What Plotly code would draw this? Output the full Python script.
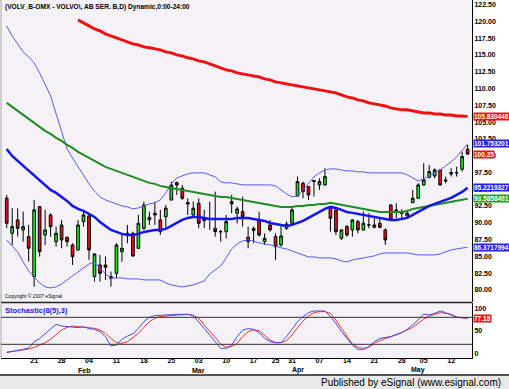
import plotly.graph_objects as go

# ---------------- data ----------------
idx = list(range(85))

opens = [93.66, 88.44, 90.43, 88.94, 87.94, 81.98, 92.41, 88.19, 91.17, 87.20,
         89.68, 87.84, 86.70, 85.96, 90.18, 91.02, 81.98, 83.72, 83.72, 81.98,
         82.48, 85.71, 88.19, 88.44, 86.20, 89.18, 90.43, 91.42, 90.43, 90.92,
         93.41, 95.99, 95.15, 93.01, 91.17, 92.91, 90.67, 90.57, 89.18, 88.69,
         88.69, 92.81, 91.42, 91.67, 87.84, 88.84, 90.43, 87.20, 89.68, 87.94,
         86.70, 89.18, 89.93, 94.00, 95.89, 95.40, 96.14, 95.64, 95.64, 92.17,
         91.92, 87.69, 89.43, 88.94, 90.18, 88.94, 89.68, 89.33, 89.93, 88.94,
         92.66, 91.67, 91.52, 91.02, 93.01, 93.66, 95.64, 96.79, 96.98, 97.88,
         96.39, 97.28, 97.48, 97.98, 100.96]
highs = [94.15, 92.17, 92.17, 91.67, 89.68, 93.41, 92.50, 91.92, 91.42, 89.43,
         90.43, 87.94, 86.95, 90.43, 91.67, 91.42, 85.46, 85.21, 84.96, 82.73,
         86.95, 88.19, 89.68, 88.69, 91.17, 93.16, 91.67, 93.16, 91.92, 92.66,
         96.14, 96.14, 95.64, 93.66, 93.16, 93.66, 91.92, 93.16, 94.65, 88.94,
         91.17, 94.15, 92.41, 93.90, 89.43, 89.43, 91.67, 88.44, 90.43, 88.44,
         89.68, 90.18, 92.41, 96.88, 96.14, 95.45, 96.39, 96.64, 98.13, 92.41,
         92.17, 89.00, 89.68, 90.50, 90.43, 91.67, 91.42, 90.67, 90.67, 89.18,
         92.75, 92.91, 92.02, 91.92, 94.90, 95.89, 98.87, 98.62, 98.13, 97.95,
         96.88, 98.13, 98.37, 100.61, 101.60]
lows = [89.18, 86.70, 87.94, 87.20, 84.22, 80.49, 84.96, 86.70, 87.94, 86.45,
        86.20, 86.45, 83.72, 85.85, 89.43, 84.47, 81.24, 81.24, 81.48, 80.49,
        81.73, 84.22, 86.95, 84.96, 86.10, 88.94, 89.68, 89.68, 88.19, 89.18,
        93.30, 94.15, 93.41, 91.17, 90.92, 89.18, 89.18, 88.94, 87.94, 87.20,
        87.69, 91.42, 89.93, 89.43, 86.20, 86.95, 87.94, 86.70, 88.69, 84.47,
        86.45, 88.94, 89.68, 93.90, 93.66, 93.41, 93.90, 94.90, 95.55, 88.69,
        88.19, 87.45, 87.94, 87.94, 88.44, 88.85, 89.18, 89.18, 89.18, 86.70,
        90.35, 90.67, 90.67, 90.67, 92.91, 93.55, 95.55, 96.64, 96.64, 95.55,
        95.89, 96.88, 96.88, 97.63, 100.11]
closes = [89.93, 89.43, 89.18, 89.43, 86.20, 91.92, 85.71, 88.94, 89.43, 88.44,
          87.45, 87.20, 84.96, 89.68, 91.17, 85.96, 85.36, 82.48, 83.37, 81.73,
          86.70, 86.20, 88.44, 85.05, 89.93, 92.66, 90.82, 91.17, 88.69, 92.17,
          95.64, 95.64, 93.66, 92.81, 92.17, 89.93, 90.33, 90.55, 88.69, 88.67,
          90.18, 93.16, 92.07, 90.92, 87.20, 89.18, 88.19, 87.69, 88.94, 86.45,
          88.04, 89.83, 91.92, 96.14, 94.65, 94.15, 96.29, 96.14, 96.88, 90.67,
          88.69, 88.94, 88.19, 90.43, 88.94, 89.93, 89.66, 89.68, 89.33, 87.45,
          90.43, 91.92, 91.42, 91.42, 93.66, 95.64, 96.39, 97.63, 97.88, 95.64,
          96.24, 97.48, 97.46, 99.87, 100.25]

ma_red_start = 13
ma_red = [120.24, 119.79, 119.34, 118.90, 118.60, 118.15, 117.85, 117.56, 117.26, 116.96,
          116.66, 116.51, 116.21, 116.07, 115.92, 115.77, 115.47, 115.32, 115.02, 114.87,
          114.58, 114.43, 114.13, 113.98, 113.68, 113.38, 113.08, 112.79, 112.64, 112.34,
          112.19, 112.04, 111.89, 111.74, 111.45, 111.30, 111.00, 110.85, 110.70, 110.55,
          110.40, 110.25, 110.10, 109.96, 109.81, 109.66, 109.51, 109.36, 109.06, 108.76,
          108.61, 108.32, 108.17, 107.87, 107.72, 107.57, 107.42, 107.12, 106.97, 106.83,
          106.83, 106.68, 106.53, 106.38, 106.38, 106.23, 106.23, 106.08, 106.08, 105.93,
          105.93, 105.83]
ma_green = [107.87, 107.27, 106.68, 106.08, 105.48, 104.89, 104.29, 103.70, 103.25, 102.65,
            102.21, 101.61, 101.16, 100.57, 100.12, 99.67, 99.22, 98.78, 98.33, 98.03,
            97.73, 97.44, 97.14, 96.84, 96.54, 96.24, 95.95, 95.80, 95.50, 95.35,
            95.20, 95.05, 94.90, 94.75, 94.61, 94.46, 94.31, 94.16, 94.01, 93.86,
            93.86, 93.71, 93.56, 93.41, 93.26, 93.11, 92.97, 92.82, 92.67, 92.52,
            92.37, 92.37, 92.37, 92.52, 92.52, 92.67, 92.67, 92.82, 92.82, 92.97,
            92.82, 92.67, 92.52, 92.37, 92.22, 92.07, 91.92, 91.77, 91.62, 91.62,
            91.62, 91.62, 91.62, 91.77, 92.07, 92.22, 92.37, 92.52, 92.67, 92.82,
            92.97, 93.11, 93.26, 93.41, 93.59]
ma_blue = [101.01, 99.97, 99.22, 98.48, 97.73, 96.99, 96.24, 95.50, 94.90, 94.46,
           93.86, 93.26, 92.52, 92.07, 91.77, 91.33, 90.88, 90.13, 89.54, 88.94,
           88.64, 88.35, 88.20, 88.20, 88.35, 88.64, 88.79, 88.94, 88.94, 89.09,
           89.54, 89.98, 90.43, 90.73, 90.88, 90.88, 90.73, 90.58, 90.58, 90.58,
           90.58, 90.58, 90.73, 90.73, 90.73, 90.58, 90.43, 90.28, 89.98, 89.84,
           89.69, 89.54, 89.69, 89.98, 90.28, 90.73, 91.18, 91.62, 92.07, 92.37,
           92.22, 91.92, 91.62, 91.48, 91.33, 91.18, 91.03, 90.88, 90.73, 90.58,
           90.43, 90.43, 90.58, 90.73, 91.18, 91.62, 92.07, 92.52, 92.82, 93.11,
           93.41, 93.71, 94.16, 94.61, 95.22]
band_upper = [119.34, 117.85, 116.66, 115.47, 114.72, 113.83, 112.34, 110.70, 108.91, 106.23,
              103.55, 101.01, 99.67, 98.33, 96.99, 95.80, 94.75, 93.86, 93.41, 93.11,
              92.82, 92.52, 92.37, 92.07, 92.22, 92.52, 92.82, 92.97, 93.41, 94.46,
              95.80, 96.69, 96.99, 97.29, 97.44, 97.44, 97.44, 97.14, 96.84, 96.10,
              95.95, 95.95, 95.80, 95.65, 95.65, 95.65, 95.65, 95.65, 95.65, 95.50,
              94.90, 94.31, 93.86, 94.01, 94.90, 95.95, 96.84, 97.44, 97.88, 98.03,
              98.03, 97.88, 97.73, 97.73, 97.59, 97.59, 97.44, 97.44, 97.44, 97.44,
              97.44, 97.44, 97.44, 97.14, 96.69, 96.24, 96.54, 96.99, 97.44, 97.88,
              98.48, 99.08, 99.82, 100.72, 101.75]
band_lower = [87.45, 86.56, 85.66, 84.17, 82.83, 81.94, 81.04, 80.45, 80.30, 80.45,
              80.89, 81.49, 82.09, 82.68, 83.28, 83.87, 84.17, 83.28, 82.38, 81.79,
              81.79, 81.79, 81.64, 81.64, 81.64, 81.49, 81.49, 81.49, 81.49, 81.04,
              80.75, 80.60, 80.45, 80.60, 80.75, 81.04, 81.34, 82.38, 82.98, 83.58,
              84.77, 86.11, 86.86, 87.30, 87.45, 87.30, 87.00, 86.86, 86.71, 86.56,
              86.26, 86.11, 85.81, 85.51, 85.22, 84.92, 84.92, 84.77, 84.77, 84.77,
              84.62, 84.32, 84.17, 84.47, 84.62, 84.77, 84.92, 85.07, 85.37, 85.51,
              85.51, 85.51, 85.51, 85.51, 85.37, 85.22, 85.22, 85.22, 85.22, 85.37,
              85.66, 85.96, 86.11, 86.26, 86.37]

stoch_k = [2.1, 4.3, 5.8, 8.8, 11.9, 25.9, 32.6, 43.0, 53.3, 64.4,
           60.7, 59.3, 57.0, 57.0, 59.3, 54.8, 53.3, 48.1, 37.0, 16.3,
           18.5, 31.1, 38.5, 43.0, 55.6, 70.4, 80.0, 83.7, 84.4, 84.4,
           85.9, 86.7, 87.4, 86.7, 83.7, 70.4, 55.6, 40.7, 25.9, 11.0,
           11.0, 18.5, 37.0, 51.9, 54.8, 53.3, 45.9, 33.3, 25.9, 23.7,
           23.7, 37.0, 53.3, 70.4, 81.5, 90.4, 94.1, 94.8, 94.1, 81.5,
           66.7, 48.1, 33.3, 18.5, 8.8, 8.8, 14.8, 25.9, 33.3, 34.8,
           37.0, 42.2, 45.9, 53.3, 63.0, 74.0, 87.4, 85.2, 88.9, 94.1,
           90.4, 85.2, 80.0, 79.3, 78.5]
stoch_d = [2.1, 3.6, 5.1, 7.3, 9.5, 13.3, 18.5, 23.7, 31.1, 40.7,
           51.9, 57.8, 60.7, 59.3, 57.8, 57.0, 55.6, 51.9, 44.4, 33.3,
           23.7, 22.2, 25.9, 34.8, 44.4, 57.8, 70.4, 77.8, 81.5, 83.0,
           83.7, 84.4, 85.9, 86.7, 84.4, 77.8, 63.0, 48.1, 33.3, 20.7,
           13.3, 14.8, 22.2, 37.0, 48.1, 51.9, 50.4, 40.7, 29.6, 23.7,
           23.7, 28.1, 40.7, 57.0, 71.9, 83.0, 90.4, 92.6, 92.6, 88.9,
           74.0, 55.6, 37.0, 20.7, 13.3, 11.0, 13.3, 22.2, 28.1, 33.3,
           37.0, 40.7, 45.9, 51.9, 57.8, 66.7, 76.3, 83.0, 87.4, 90.4,
           88.9, 86.7, 80.7, 78.5, 77.18]

day_ticks = [5, 10, 15, 20, 25, 30, 35, 40, 45, 49, 52, 57, 62, 67, 72, 76, 81]
day_labels = ["21", "28", "04", "11", "18", "25", "03", "10", "17", "25",
              "31", "07", "14", "21", "28", "05", "12"]
month_ticks = [14, 35, 53, 75]
month_labels = ["Feb", "Mar", "Apr", "May"]
price_ticks = [80.0, 82.5, 85.0, 87.5, 90.0, 92.5, 95.0, 97.5, 100.0, 102.5,
               105.0, 107.5, 110.0, 112.5, 115.0, 117.5, 120.0, 122.5]
stoch_ticks = [0, 50, 100]
stoch_levels = [20, 80]

badges = [("105.830446", ma_red[-1], "#EE1111"),
          ("101.753201", band_upper[-1], "#2222EE"),
          ("100.25", closes[-1], "#EE1111"),
          ("95.2219327", ma_blue[-1], "#2222EE"),
          ("93.5858491", ma_green[-1], "#22A022"),
          ("86.3717994", band_lower[-1], "#2222EE")]

# ---------------- figure ----------------
FONT = "Liberation Sans"
fig = go.Figure()

fig.add_trace(go.Scatter(x=idx, y=band_upper, mode="lines",
                         line=dict(color="#5A5AF0", width=1), xaxis="x", yaxis="y"))
fig.add_trace(go.Scatter(x=idx, y=band_lower, mode="lines",
                         line=dict(color="#5A5AF0", width=1), xaxis="x", yaxis="y"))
fig.add_trace(go.Scatter(x=idx[ma_red_start:], y=ma_red, mode="lines",
                         line=dict(color="#F01010", width=3), xaxis="x", yaxis="y"))
fig.add_trace(go.Scatter(x=idx, y=ma_green, mode="lines",
                         line=dict(color="#1E8C1E", width=2), xaxis="x", yaxis="y"))
fig.add_trace(go.Scatter(x=idx, y=ma_blue, mode="lines",
                         line=dict(color="#1414F0", width=2.5), xaxis="x", yaxis="y"))
fig.add_trace(go.Candlestick(
    x=idx, open=opens, high=highs, low=lows, close=closes,
    increasing=dict(line=dict(color="#000000", width=1), fillcolor="#22E022"),
    decreasing=dict(line=dict(color="#000000", width=1), fillcolor="#EE1111"),
    whiskerwidth=0, xaxis="x", yaxis="y"))

fig.add_trace(go.Scatter(x=idx, y=stoch_d, mode="lines",
                         line=dict(color="#F03030", width=1), xaxis="x", yaxis="y2"))
fig.add_trace(go.Scatter(x=idx, y=stoch_k, mode="lines",
                         line=dict(color="#4848F0", width=1), xaxis="x", yaxis="y2"))

tickfont = dict(family=FONT, size=7, color="#000000", weight="bold")

price_dom = [0.1564, 1.0]
stoch_dom = [0.0, 0.1536]

fig.update_layout(
    width=509, height=389,
    margin=dict(l=1, r=37, t=0, b=31),
    paper_bgcolor="#FFFFFF",
    plot_bgcolor="#F4F2F6",
    showlegend=False,
    xaxis=dict(range=[-1.04, 84.8], anchor="y2", tickvals=day_ticks, ticktext=day_labels,
               showgrid=False, zeroline=False, rangeslider=dict(visible=False),
               showline=True, linecolor="#000000", linewidth=1,
               ticks="", tickfont=tickfont, ticklabelstandoff=-4),
    yaxis=dict(domain=price_dom, anchor="x", side="right", range=[78.2, 123.2],
               tickvals=price_ticks, tickformat=".2f", showgrid=False, zeroline=False,
               showline=True, linecolor="#000000", linewidth=1, ticks="",
               tickfont=tickfont),
    yaxis2=dict(domain=stoch_dom, anchor="x", side="right", range=[-10.4, 111.8],
                tickvals=stoch_ticks, showgrid=False, zeroline=False,
                showline=True, linecolor="#000000", linewidth=1, ticks="",
                tickfont=tickfont),
)

shapes = []
# pane separator
shapes.append(dict(type="line", xref="paper", yref="paper", x0=0, x1=1,
                   y0=0.155, y1=0.155, line=dict(color="#202020", width=1.5)))
# left border
shapes.append(dict(type="line", xref="paper", yref="paper", x0=0, x1=0,
                   y0=0, y1=1, line=dict(color="#A0A0A0", width=1)))
for lv in stoch_levels:
    shapes.append(dict(type="line", xref="paper", yref="y2", x0=0, x1=1,
                       y0=lv, y1=lv, line=dict(color="#303030", width=1)))
# bottom publisher bar
shapes.append(dict(type="rect", xref="paper", yref="paper", x0=-0.01, x1=1.09,
                   y0=-0.09, y1=-0.0475, fillcolor="#E8E8E8", line=dict(width=0),
                   layer="below"))
shapes.append(dict(type="line", xref="paper", yref="paper", x0=-0.01, x1=1.09,
                   y0=-0.0475, y1=-0.0475, line=dict(color="#202020", width=1.5)))
fig.update_layout(shapes=shapes)

ann = []
ann.append(dict(text="(VOLV_B-OMX - VOLVO\\, AB SER. B,D) Dynamic,0:00-24:00",
                xref="paper", yref="paper", x=0.004, y=0.998, xanchor="left", yanchor="top",
                showarrow=False, font=dict(family=FONT, size=6.6, color="#000000", weight="bold")))
ann.append(dict(text="Copyright © 2007 eSignal", xref="paper", yref="paper",
                x=0.004, y=0.158, xanchor="left", yanchor="bottom", showarrow=False,
                font=dict(family=FONT, size=5, color="#000000")))
ann.append(dict(text="Stochastic(8(5),3)", xref="paper", yref="paper",
                x=0.004, y=0.151, xanchor="left", yanchor="top", showarrow=False,
                font=dict(family=FONT, size=7.5, color="#2020E0", weight="bold")))
for mx, ml in zip(month_ticks, month_labels):
    ann.append(dict(text=ml, xref="x", yref="paper", x=mx, y=-0.034,
                    xanchor="center", yanchor="middle", showarrow=False,
                    font=dict(family=FONT, size=7, color="#000000", weight="bold")))
for txt, val, col in badges:
    ann.append(dict(text=txt, xref="paper", yref="y", x=1.003, y=val,
                    xanchor="left", yanchor="middle", showarrow=False,
                    bgcolor=col, borderpad=0,
                    font=dict(family=FONT, size=6.5, color="#FFFFFF", weight="bold")))
ann.append(dict(text=f"{stoch_d[-1]:.2f}", xref="paper", yref="y2", x=1.003, y=stoch_d[-1],
                xanchor="left", yanchor="middle", showarrow=False,
                bgcolor="#EE1111", borderpad=0,
                font=dict(family=FONT, size=6.5, color="#FFFFFF", weight="bold")))
ann.append(dict(text="Published by eSignal (www.esignal.com)", xref="paper", yref="paper",
                x=1.066, y=-0.068, xanchor="right", yanchor="middle", showarrow=False,
                font=dict(family=FONT, size=10, color="#000000")))
fig.update_layout(annotations=ann)

fig.write_html("out.html", config={"displayModeBar": False},
               post_script="document.body.style.margin='0px';document.body.style.overflow='hidden';")
